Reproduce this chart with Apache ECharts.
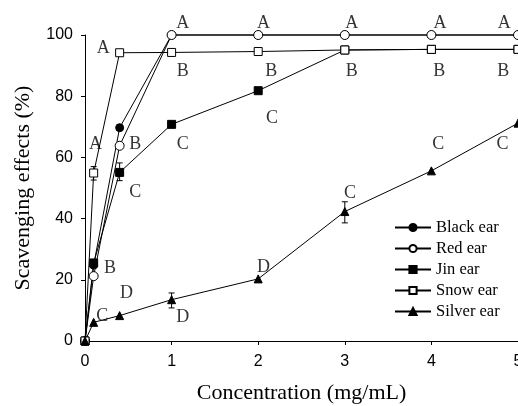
<!DOCTYPE html>
<html><head><meta charset="utf-8">
<script src="https://cdn.jsdelivr.net/npm/echarts@6/dist/echarts.min.js"></script>
<style>html,body{margin:0;padding:0;background:#fff}#c{width:518px;height:406px}</style>
</head><body><div id="c"></div>
<script>
const concentrations = [0, 0.1, 0.4, 1, 2, 3, 4, 5];
const blackEar  = [0, 24.8, 69.7, 100, 100, 100, 100, 100];
const redEar    = [0, 21.2, 63.8, 100, 100, 100, 100, 100];
const jinEar    = [0, 25.5, 55.1, 70.8, 81.8, 95.1, 95.3, 95.3];
const snowEar   = [0, 54.9, 94.2, 94.3, 94.6, 95.1, 95.3, 95.3];
const silverEar = [0, 6.1, 8.3, 13.5, 20.3, 42.3, 55.6, 71.2];
const xTicks = [0, 1, 2, 3, 4, 5];
const yTicks = [0, 20, 40, 60, 80, 100];
// error bars: [x, low, high]
const errorBars = [[0.1, 52.6, 57.0], [0.4, 52.4, 58.2], [1, 10.8, 15.7], [3, 38.6, 45.5]];
// significance letters: [x, y, letter]
const letters = [
  [1.13, 103.9, 'A'], [2.06, 103.9, 'A'], [3.08, 103.9, 'A'], [4.10, 103.9, 'A'], [4.84, 103.9, 'A'],
  [1.13, 88.2, 'B'], [2.15, 88.2, 'B'], [3.08, 88.2, 'B'], [4.09, 88.2, 'B'], [4.83, 88.2, 'B'],
  [0.21, 95.8, 'A'], [0.12, 64.4, 'A'], [0.58, 64.4, 'B'], [1.13, 64.4, 'C'],
  [0.58, 48.7, 'C'], [0.29, 23.9, 'B'], [0.48, 15.7, 'D'], [0.20, 8.2, 'C'], [1.13, 7.8, 'D'],
  [2.16, 72.9, 'C'], [4.08, 64.4, 'C'], [4.82, 64.4, 'C'], [3.06, 48.4, 'C'], [2.06, 24.2, 'D']
];

const pair = v => concentrations.map((x, i) => [x, v[i]]);
const serif = 'Liberation Serif';
const sans = 'Liberation Sans';

function lineSeries(name, values, symbol, size, filled) {
  return {
    name, type: 'line', data: pair(values), symbol, symbolSize: size,
    showSymbol: true, clip: false,
    lineStyle: { color: '#000', width: 1 },
    itemStyle: { color: filled ? '#000' : '#fff', borderColor: '#000', borderWidth: 1 },
    emphasis: { disabled: true }, animation: false
  };
}

const chart = echarts.init(document.getElementById('c'));
chart.setOption({
  animation: false,
  backgroundColor: '#fff',
  grid: { left: 85, right: 0, top: 35, bottom: 65, containLabel: false, outerBoundsMode: 'none' },
  xAxis: {
    type: 'value', min: 0, max: 5, interval: 1,
    name: 'Concentration (mg/mL)', nameLocation: 'middle', nameGap: 41,
    nameTextStyle: { fontFamily: serif, fontSize: 22, color: '#000' },
    axisLine: { lineStyle: { color: '#000', width: 1 } },
    axisTick: { show: true, inside: false, length: 4, lineStyle: { color: '#000' } },
    axisLabel: { fontFamily: sans, fontSize: 16, color: '#000', margin: 13,
      formatter: v => xTicks.includes(v) ? String(v) : '' },
    splitLine: { show: false }
  },
  yAxis: {
    type: 'value', min: 0, max: 100, interval: 20,
    name: 'Scavenging effects (%)', nameLocation: 'middle', nameGap: 51,
    nameTextStyle: { fontFamily: serif, fontSize: 22, color: '#000' },
    axisLine: { show: true, lineStyle: { color: '#000', width: 1 } },
    axisTick: { show: true, inside: false, length: 4, lineStyle: { color: '#000' } },
    axisLabel: { fontFamily: sans, fontSize: 16, color: '#000', margin: 12,
      formatter: v => yTicks.includes(v) ? String(v) : '' },
    splitLine: { show: false }
  },
  legend: {
    orient: 'vertical', left: 389, top: 214, itemWidth: 36, itemHeight: 9, itemGap: 4,
    data: ['Black ear', 'Red ear', 'Jin ear', 'Snow ear', 'Silver ear'],
    textStyle: { fontFamily: serif, fontSize: 16.5, color: '#000', lineHeight: 14, padding: [0, 0, 0, 0] },
    selectedMode: false
  },
  series: [
    lineSeries('Black ear', blackEar, 'circle', 8, true),
    lineSeries('Red ear', redEar, 'circle', 9, false),
    lineSeries('Jin ear', jinEar, 'rect', 8, true),
    lineSeries('Snow ear', snowEar, 'rect', 8, false),
    lineSeries('Silver ear', silverEar, 'triangle', 8, true),
    {
      type: 'custom', data: errorBars, clip: false, silent: true, z: 1,
      renderItem: (params, api) => {
        const x = api.value(0);
        const lo = api.coord([x, api.value(1)]);
        const hi = api.coord([x, api.value(2)]);
        const w = 3;
        const st = { stroke: '#000', lineWidth: 1 };
        return { type: 'group', children: [
          { type: 'line', shape: { x1: lo[0], y1: lo[1], x2: hi[0], y2: hi[1] }, style: st },
          { type: 'line', shape: { x1: lo[0] - w, y1: lo[1], x2: lo[0] + w, y2: lo[1] }, style: st },
          { type: 'line', shape: { x1: hi[0] - w, y1: hi[1], x2: hi[0] + w, y2: hi[1] }, style: st }
        ]};
      }
    },
    {
      type: 'scatter', data: letters, symbolSize: 0, clip: false, silent: true,
      label: { show: true, position: 'inside', formatter: p => p.data[2],
        fontFamily: serif, fontSize: 18, color: '#000' }
    }
  ]
});
</script></body></html>
